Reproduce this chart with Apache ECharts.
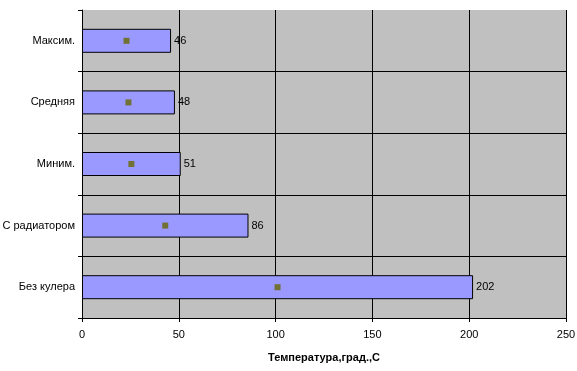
<!DOCTYPE html>
<html><head><meta charset="utf-8">
<script src="https://cdn.jsdelivr.net/npm/echarts@6/dist/echarts.min.js"></script>
<style>html,body{margin:0;padding:0;background:#fff}#c{width:577px;height:371px}</style>
</head><body><div id="c"></div>
<script>
const categories = ['Максим.', 'Средняя', 'Миним.', 'С радиатором', 'Без кулера'];
const barValues = [46, 48, 51, 86, 202];
const markerValues = [23, 24, 25.5, 43, 101];
const xTicks = [0, 50, 100, 150, 200, 250];
const axisTitle = 'Температура,град.,С';

const chart = echarts.init(document.getElementById('c'), null, {renderer: 'canvas'});
const font = 'Liberation Sans, Arial, sans-serif';
chart.setOption({
  animation: false,
  backgroundColor: '#fff',
  grid: {left: 82, right: 11, top: 10, bottom: 53, containLabel: false, outerBoundsMode: 'none',
         show: true, backgroundColor: '#C0C0C0', borderWidth: 0},
  xAxis: {
    type: 'value', min: xTicks[0], max: xTicks[xTicks.length - 1], interval: 50,
    name: axisTitle, nameLocation: 'middle', nameGap: 34,
    nameTextStyle: {fontFamily: font, fontSize: 11, fontWeight: 'bold', color: '#000'},
    axisLine: {show: true, lineStyle: {color: '#000', width: 1}},
    axisTick: {show: true, length: 4, lineStyle: {color: '#000'}},
    axisLabel: {fontFamily: font, fontSize: 11, color: '#000', margin: 11},
    splitLine: {show: true, lineStyle: {color: '#000', width: 1}}
  },
  yAxis: {
    type: 'category', data: categories, inverse: true,
    axisLine: {show: true, lineStyle: {color: '#000', width: 1}},
    axisTick: {show: true, length: 4, lineStyle: {color: '#000'}},
    axisLabel: {fontFamily: font, fontSize: 11, color: '#000', margin: 7},
    splitLine: {show: true, interval: function (i) { return i !== 0; }, lineStyle: {color: '#000', width: 1}}
  },
  series: [
    {
      type: 'bar', data: barValues, barWidth: 24,
      itemStyle: {color: '#9999FF', borderColor: '#000', borderWidth: 1},
      label: {show: true, position: 'right', distance: 3, fontFamily: font, fontSize: 11, color: '#000'}
    },
    {
      type: 'scatter', data: markerValues, symbol: 'rect', symbolSize: 6,
      itemStyle: {color: '#666600'}, z: 5
    }
  ]
});
</script></body></html>
